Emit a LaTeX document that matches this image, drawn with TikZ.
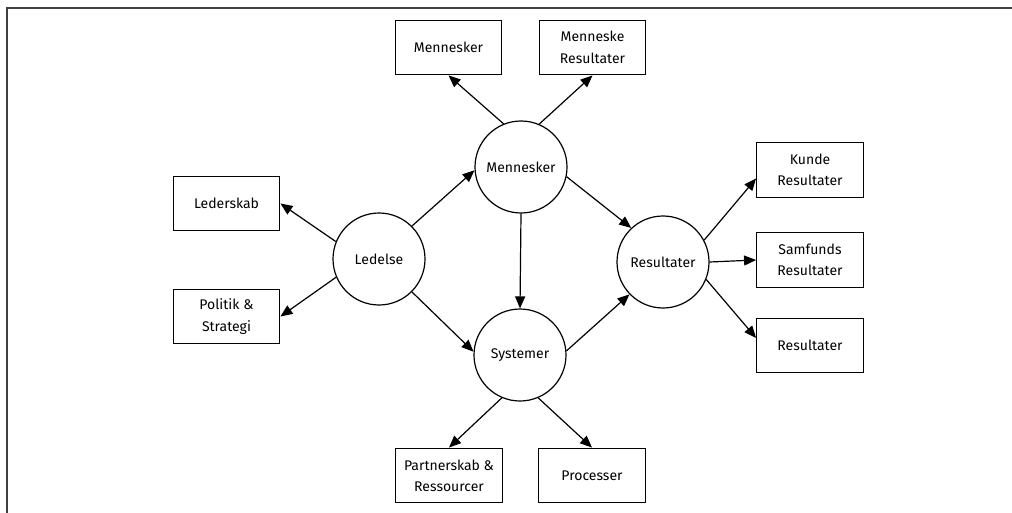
\documentclass[tikz,border=0pt]{standalone}
\usepackage{fontspec}
\setmainfont{Fira Sans}
\usetikzlibrary{arrows.meta}
\begin{document}
\begin{tikzpicture}[x=0.75pt,y=-0.75pt,
    font=\fontsize{10.5}{16}\selectfont,
    box/.style={draw, line width=0.9pt, minimum width=80pt, minimum height=41pt, align=center, inner sep=2pt},
    hub/.style={draw, circle, line width=0.9pt, minimum size=69pt, inner sep=0pt},
    link/.style={-{Triangle[length=9pt,width=7.5pt]}, line width=0.9pt}]
    \useasboundingbox (0,0) rectangle (1012,513);
    \draw[line width=1.6pt, black!75] (7,513) |- (1012,8);

    % circles
    \node[hub] (men) at (521,167) {Mennesker};
    \node[hub] (led) at (379,259) {Ledelse};
    \node[hub] (sys) at (520,355) {Systemer};
    \node[hub] (res) at (663,262) {Resultater};

    % boxes
    \node[box] (mbox) at (448.5,47.5) {Mennesker};
    \node[box] (mrbox) at (592.5,47.5) {Menneske\\Resultater};
    \node[box] (leder) at (226.5,203.5) {Lederskab};
    \node[box] (politik) at (226.5,316.5) {Politik \&\\Strategi};
    \node[box] (kunde) at (810,170) {Kunde\\Resultater};
    \node[box] (samf) at (810,260) {Samfunds\\Resultater};
    \node[box] (resbox) at (810,345.5) {Resultater};
    \node[box] (partner) at (449,475.5) {Partnerskab \&\\Ressourcer};
    \node[box] (proc) at (592,475.5) {Processer};

    \draw[link] (led.158) -- (leder.east);
    \draw[link] (led.203) -- (politik.east);
    \draw[link] (led.45) -- (men.184);
    \draw[link] (led.-45) -- (sys.176);
    \draw[link] (men.south) -- (sys.north);
    \draw[link] (men.-12) -- (res.133);
    \draw[link] (sys.5) -- (res.224);
    \draw[link] (men.112) -- (mbox.south);
    \draw[link] (men.67) -- (mrbox.south);
    \draw[link] (res.28) -- (kunde.189);
    \draw[link] (res.east) -- (samf.west);
    \draw[link] (res.-22) -- (resbox.172);
    \draw[link] (sys.247) -- (partner.north);
    \draw[link] (sys.293) -- (proc.north);
\end{tikzpicture}
\end{document}
